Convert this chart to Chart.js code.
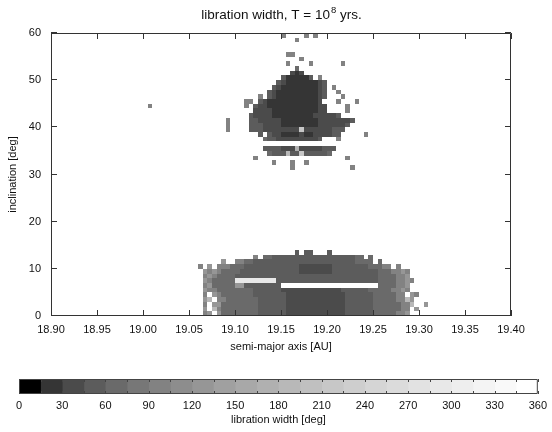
<!DOCTYPE html>
<html><head><meta charset="utf-8">
<script src="https://cdn.jsdelivr.net/npm/chart.js@4"></script>
<style>html,body{margin:0;padding:0;background:#fff;}#wrap{position:relative;width:552px;height:432px;}canvas{position:absolute;left:0;}</style>
</head><body>
<div id="wrap"><canvas id="main" width="552" height="432" style="top:0"></canvas><canvas id="cbar" width="552" height="72" style="top:360px"></canvas></div>
<script>
// ---------- data ----------
const xTicks = [18.90, 18.95, 19.00, 19.05, 19.10, 19.15, 19.20, 19.25, 19.30, 19.35, 19.40];
const yTicks = [0, 10, 20, 30, 40, 50, 60];
const cbTicks = [0, 30, 60, 90, 120, 150, 180, 210, 240, 270, 300, 330, 360];
const cbEdges = [0,15,30,45,60,75,90,105,120,135,150,165,180,195,210,225,240,255,270,285,300,315,330,345,360];
// grid step of the simulation: 0.005 AU in semi-major axis, 1 deg in inclination
const stepA = 0.005;
const stepI = 1;
// level code per cell: '.' = no data, '0'..'9','a'..'n' = libration-width class (15 deg each)
const levelCodes = "0123456789abcdefghijklmn";
// each row: inclination, first semi-major axis, codes
const rowInc = [59,58,55,54,53,52,51,50,49,48,47,46,45,44,44,43,42,41,40,39,38,37,35,34,33,32,31,
                13,12,11,10,9,8,7,6,5,4,3,2,2,1,0];
const rowA0 = [19.150,19.165,19.155,19.170,19.155,19.165,19.160,19.150,19.145,19.140,19.135,19.125,19.110,19.110,19.005,19.120,19.115,19.090,19.090,19.090,19.125,19.130,19.130,19.135,19.120,19.140,19.160,
               19.165,19.120,19.085,19.060,19.065,19.065,19.065,19.065,19.065,19.065,19.065,19.065,19.305,19.065,19.065];
const rowCells = [
 "6....6.6",
 "6",
 "66",
 "6",
 "6....6......6",
 "4",
 "212",
 "3111113.6",
 "32111111123",
 "321111111123.6",
 "3211111111123..6",
 "6.3211111111123...6",
 "66.32111111111112...6...6",
 "6.3221111111111122....6",
 "6",
 "2222111111111122....6",
 "32222111111111222223",
 "6....33222221111111122222223",
 "6....3332222111111112222223",
 "6....33322222222e222222333",
 "3.3221111211222233.....6",
 "4332222222223...6",
 "3333222b22222333",
 "4333c33e333334",
 "6...................6",
 "6...6..6",
 "6............6",
 "3.33...3",
 "6.4433333333333333333344.4",
 "8..664433333333333333333333334444.4",
 "6.8.66644433333333333322222223333333344466.6",
 "868644443333333333333222222233333333334446686",
 "686444433333333333333333333333333333334444668",
 "8644444jjjjjjjjj333333333333333333333344446686",
 "68444448833333333.....................4444668",
 "866444444443333332222222222222333333444446686",
 "6.864444444333333322222222222223333334444466.86",
 "8c.66444444433333322222222222223333334444466c8",
 "6.8844444444333333222222222222233333344444466c",
 "8",
 "8.c644444444333333222222222222233333344444466.8",
 "68.844444444333333222222222222233333344444668"
];

// ---------- helpers ----------
const FONT = '"Liberation Sans", Arial, Helvetica, sans-serif';
Chart.defaults.font.family = FONT;
Chart.defaults.font.size = 11;
Chart.defaults.color = '#111';
function levelColor(k) { const g = Math.round(255 * Math.sqrt(k / 23)); return 'rgb(' + g + ',' + g + ',' + g + ')'; }

const heatPlugin = {
  id: 'heat',
  beforeDatasetsDraw(chart) {
    const { ctx, scales: { x, y }, chartArea } = chart;
    ctx.save();
    ctx.beginPath(); ctx.rect(chartArea.left, chartArea.top, chartArea.right - chartArea.left, chartArea.bottom - chartArea.top); ctx.clip();
    for (let r = 0; r < rowInc.length; r++) {
      const s = rowCells[r];
      for (let j = 0; j < s.length; j++) {
        const ch = s[j];
        if (ch === '.') continue;
        const k = levelCodes.indexOf(ch);
        const a = rowA0[r] + j * stepA;
        const x0 = Math.round(x.getPixelForValue(a)), x1 = Math.round(x.getPixelForValue(a + stepA));
        const y0 = Math.round(y.getPixelForValue(rowInc[r])), y1 = Math.round(y.getPixelForValue(rowInc[r] + stepI));
        ctx.fillStyle = levelColor(k);
        ctx.fillRect(x0, y1, x1 - x0, y0 - y1);
      }
    }
    ctx.restore();
  },
  afterDraw(chart) {
    const { ctx, chartArea: { left, right, top, bottom }, scales: { x, y } } = chart;
    ctx.save();
    ctx.strokeStyle = '#333';
    ctx.lineWidth = 1;
    ctx.beginPath();
    ctx.rect(left + 0.5, top + 0.5, right - left - 1, bottom - top - 1);
    for (const v of xTicks) {
      const px = Math.round(x.getPixelForValue(v)) + 0.5;
      ctx.moveTo(px, bottom); ctx.lineTo(px, bottom - 6);
      ctx.moveTo(px, top); ctx.lineTo(px, top + 6);
    }
    for (const v of yTicks) {
      const py = Math.round(y.getPixelForValue(v)) - 0.5;
      ctx.moveTo(left, py); ctx.lineTo(left + 6, py);
      ctx.moveTo(right, py); ctx.lineTo(right - 6, py);
    }
    ctx.stroke();
    // title with superscript
    const big = '13.5px ' + FONT, small = '9.5px ' + FONT;
    const p1 = 'libration width, T = 10', p2 = '8', p3 = ' yrs.';
    ctx.font = big; const w1 = ctx.measureText(p1).width, w3 = ctx.measureText(p3).width;
    ctx.font = small; const w2 = ctx.measureText(p2).width;
    let tx = (left + right) / 2 - (w1 + w2 + w3) / 2;
    const base = 18.5;
    ctx.fillStyle = '#111';
    ctx.textBaseline = 'alphabetic'; ctx.textAlign = 'left';
    ctx.font = big; ctx.fillText(p1, tx, base); tx += w1 + 1;
    ctx.font = small; ctx.fillText(p2, tx, base - 5.5); tx += w2;
    ctx.font = big; ctx.fillText(p3, tx, base);
    ctx.restore();
  }
};

new Chart(document.getElementById('main'), {
  type: 'scatter',
  data: { datasets: [] },
  options: {
    responsive: false, animation: false, devicePixelRatio: 1,
    layout: { padding: { left: 0, right: 41, top: 33, bottom: 72 } },
    plugins: { legend: { display: false }, tooltip: { enabled: false }, title: { display: false } },
    scales: {
      x: {
        type: 'linear', min: 18.9, max: 19.4,
        afterBuildTicks: s => { s.ticks = xTicks.map(v => ({ value: v })); },
        ticks: { callback: v => Number(v).toFixed(2), padding: 7, maxRotation: 0, autoSkip: false },
        grid: { display: false, drawTicks: false }, border: { display: false },
        title: { display: true, text: 'semi-major axis [AU]', padding: { top: 0, bottom: 6.4 } },
        afterFit: s => { s.height = 44; }
      },
      y: {
        type: 'linear', min: 0, max: 60,
        afterBuildTicks: s => { s.ticks = yTicks.map(v => ({ value: v })); },
        ticks: { callback: v => String(v), padding: 10, autoSkip: false },
        grid: { display: false, drawTicks: false }, border: { display: false },
        title: { display: true, text: 'inclination [deg]', padding: { top: 6.4, bottom: 0 } },
        afterFit: s => { s.width = 51; }
      }
    }
  },
  plugins: [heatPlugin]
});

const cbFrame = {
  id: 'cbFrame',
  afterDraw(chart) {
    const { ctx, chartArea: { left, right, top, bottom }, scales: { x } } = chart;
    ctx.save();
    ctx.strokeStyle = '#444'; ctx.lineWidth = 1;
    ctx.beginPath();
    ctx.rect(left + 0.5, top + 0.5, right - left - 1, bottom - top - 1);
    for (const v of cbEdges) {
      const px = Math.round(x.getPixelForValue(v)) + 0.5;
      ctx.moveTo(px, top); ctx.lineTo(px, top + 3);
      ctx.moveTo(px, bottom); ctx.lineTo(px, bottom - 3);
    }
    ctx.stroke();
    ctx.restore();
  }
};

new Chart(document.getElementById('cbar'), {
  type: 'bar',
  data: {
    labels: [''],
    datasets: cbEdges.slice(0, -1).map((lo, i) => ({
      data: [[lo, cbEdges[i + 1]]],
      backgroundColor: levelColor(i), borderWidth: 0,
      barPercentage: 1, categoryPercentage: 1, grouped: false
    }))
  },
  options: {
    indexAxis: 'y', responsive: false, animation: false, devicePixelRatio: 1,
    layout: { padding: { left: 19, right: 9, top: 19, bottom: 0 } },
    plugins: { legend: { display: false }, tooltip: { enabled: false } },
    scales: {
      x: {
        type: 'linear', min: 0, max: 360,
        afterBuildTicks: s => { s.ticks = cbTicks.map(v => ({ value: v })); },
        ticks: { padding: 5, maxRotation: 0, autoSkip: false },
        grid: { display: false, drawTicks: false }, border: { display: false },
        title: { display: true, text: 'libration width [deg]', padding: { top: 0, bottom: 5.4 } },
        afterFit: s => { s.height = 38; }
      },
      y: { display: false }
    }
  },
  plugins: [cbFrame]
});
</script>
</body></html>
